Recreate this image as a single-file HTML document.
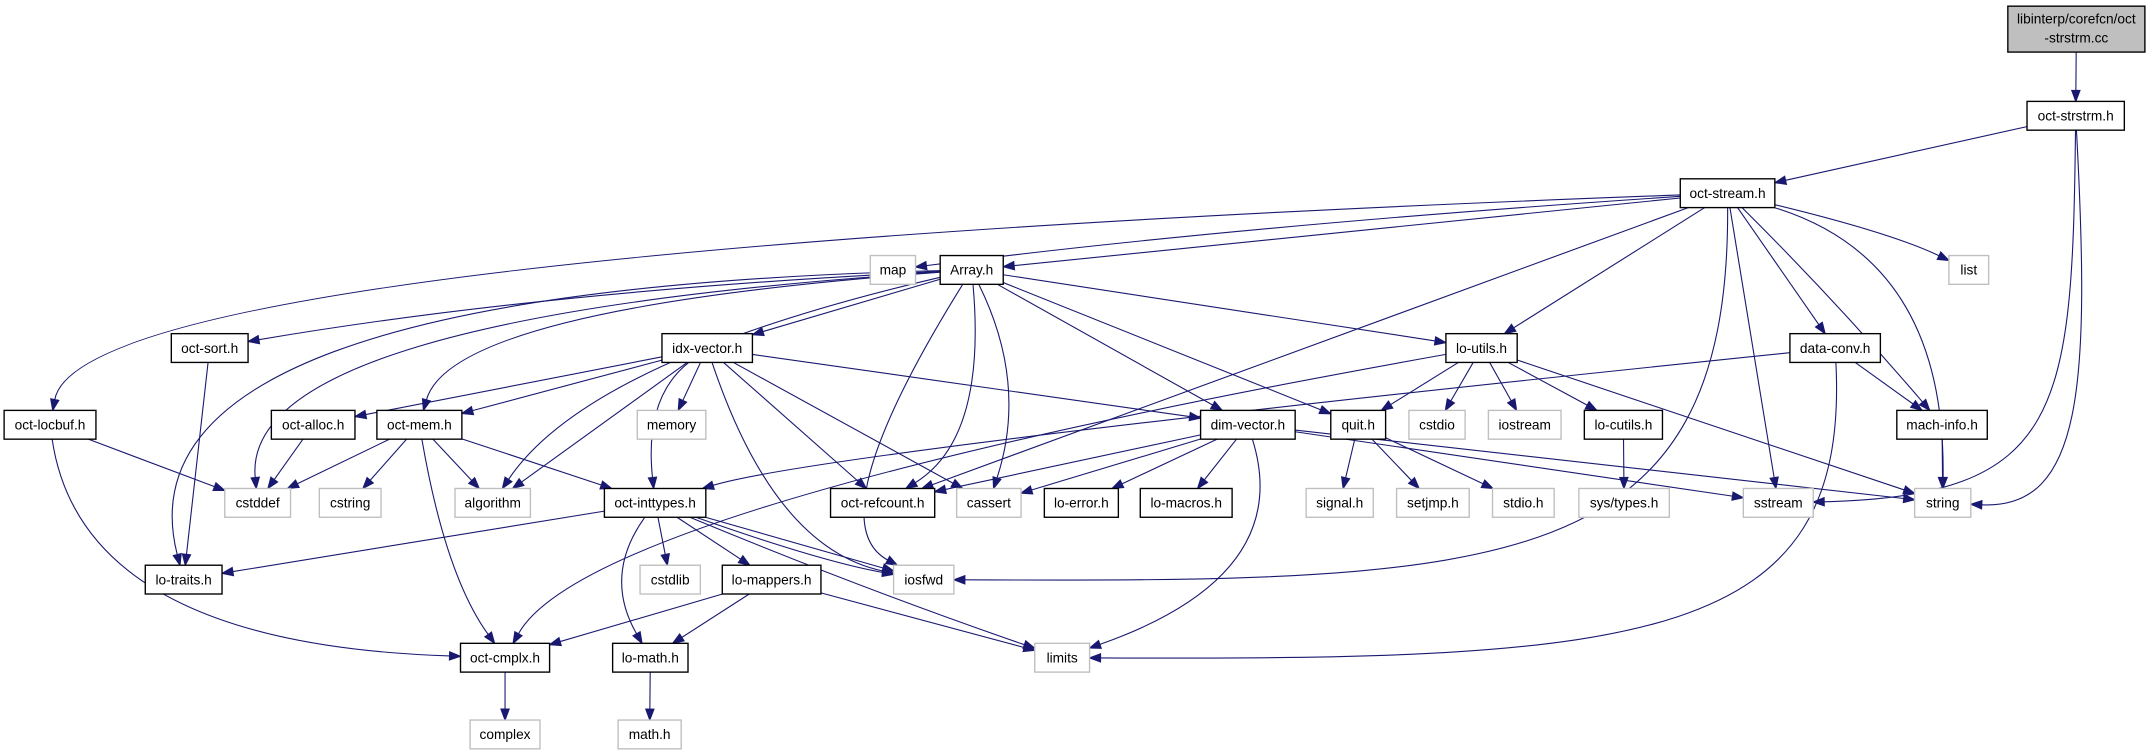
<!DOCTYPE html>
<html><head><meta charset="utf-8"><style>
html,body{margin:0;padding:0;background:#fff;}
svg{display:block;}
text{font-family:"Liberation Sans",sans-serif;font-size:10px;fill:#000;text-anchor:middle;}
</style></head><body>
<svg id="g" width="2149" height="755" viewBox="0 0 1568 551" preserveAspectRatio="none" xmlns="http://www.w3.org/2000/svg" style="position:absolute;left:0;top:0">
<g id="edges"></g>
<g stroke-width="1">
<rect x="1465" y="4.5" width="100" height="33.5" fill="#bfbfbf" stroke="#000"/>
<text x="1515" y="17">libinterp/corefcn/oct</text>
<text x="1515" y="31">-strstrm.cc</text>
</g>
</svg>
<script>
var R=[0,84.5,141,197,254,310,367,423,480,536];
var N={
strstrm:[1479,1550,1],stream:[1226,1295,2],map:[635,668,3],array:[686,732,3],list:[1422,1451,3],
sort:[125,181,4],idx:[483,549,4],loutils:[1055,1107,4],dataconv:[1306,1372,4],
locbuf:[3,70,5],alloc:[198,259,5],mem:[275,337,5],memory:[465,515,5],dim:[876,945,5],quit:[971,1011,5],
cstdio:[1028,1069,5],iostream:[1086,1139,5],locutils:[1156,1213,5],mach:[1384,1450,5],
cstddef:[164,212,6],cstring:[233,278,6],algorithm:[332,387,6],inttypes:[441,515,6],refcount:[606,682,6],
cassert:[698,745,6],loerror:[762,816,6],lomacros:[832,899,6],signal:[953,1002,6],setjmp:[1019,1072,6],
stdio:[1089,1134,6],systypes:[1152,1218,6],sstream:[1272,1323,6],string:[1397,1438,6],
lotraits:[106,162,7],cstdlib:[467,511,7],mappers:[527,599,7],iosfwd:[652,696,7],
cmplx:[336,401,8],lomath:[447,502,8],limits:[755,795,8],complex:[343,394,9],mathh:[451,497,9]
};
var B={};
for(var k in N){var n=N[k];B[k]={cx:(n[0]+n[1])/2,cy:R[n[2]],hw:(n[1]-n[0])/2,hh:10.5};}
B.lib={cx:1515,cy:21.25,hw:50,hh:16.75};
var E=[
["lib","strstrm"],
["strstrm","stream"],["strstrm","sstream",[1512,300],[1505,362]],["strstrm","string",[1525,280],[1520,372]],
["stream","map",[900,165]],["stream","array"],["stream","list",[1380,170]],["stream","string",[1420,190]],
["stream","locbuf",[60,185]],["stream","loutils"],["stream","refcount"],["stream","dataconv"],
["stream","mach",[1340,220]],["stream","sstream"],["stream","iosfwd",[1262,420],[1100,425]],
["array","idx"],["array","sort",[400,212]],["array","lotraits",[80,212]],["array","cstddef",[175,232]],
["array","mem",[330,225]],["array","algorithm",[430,262]],["array","iosfwd",[595,380]],
["array","refcount",[720,320]],["array","cassert",[750,280]],["array","dim"],["array","quit"],["array","loutils"],
["idx","alloc"],["idx","mem"],["idx","algorithm"],["idx","inttypes",[470,290]],["idx","memory"],
["idx","iosfwd",[565,400]],["idx","refcount"],["idx","cassert"],["idx","dim"],
["loutils","cmplx",[430,370]],["loutils","quit"],["loutils","cstdio"],["loutils","iostream"],
["loutils","locutils"],["loutils","string"],
["dataconv","inttypes",[600,330]],["dataconv","mach"],["dataconv","limits",[1350,470],[1200,482]],
["dim","refcount"],["dim","cassert"],["dim","loerror"],["dim","lomacros"],["dim","limits",[945,420]],
["dim","sstream"],["dim","string"],
["quit","signal"],["quit","setjmp"],["quit","stdio"],
["locutils","systypes"],["mach","string"],
["locbuf","cstddef"],["locbuf","cmplx",[60,470]],
["sort","lotraits"],["alloc","cstddef"],
["mem","cstddef"],["mem","cstring"],["mem","algorithm"],["mem","cmplx",[325,420]],["mem","inttypes"],
["inttypes","lotraits"],["inttypes","cstdlib"],["inttypes","lomath",[440,420]],["inttypes","mappers"],
["inttypes","iosfwd"],["inttypes","iosfwd",[600,410]],["inttypes","limits",[630,430]],
["mappers","cmplx"],["mappers","lomath"],["mappers","limits"],
["cmplx","complex"],["lomath","mathh"]
];
function bp(b,tx,ty){var dx=tx-b.cx,dy=ty-b.cy;var t=Math.min(dx?b.hw/Math.abs(dx):1e9,dy?b.hh/Math.abs(dy):1e9);return [b.cx+dx*t,b.cy+dy*t];}
var s="",C="#191970";
E.forEach(function(e){var a=B[e[0]],b=B[e[1]],c=e[2],c2=e[3]||e[2];
var p1=bp(a,c?c[0]:b.cx,c?c[1]:b.cy);var tip=bp(b,c2?c2[0]:a.cx,c2?c2[1]:a.cy);
var fx=c2?c2[0]:p1[0],fy=c2?c2[1]:p1[1];var dx=tip[0]-fx,dy=tip[1]-fy,L=Math.sqrt(dx*dx+dy*dy)||1;dx/=L;dy/=L;
var AL=8,AW=3;var bx=tip[0]-dx*AL,by=tip[1]-dy*AL;
var d;
if(e[3])d="M"+p1[0]+","+p1[1]+" C"+c[0]+","+c[1]+" "+c2[0]+","+c2[1]+" "+bx+","+by;
else if(c)d="M"+p1[0]+","+p1[1]+" Q"+c[0]+","+c[1]+" "+bx+","+by;
else d="M"+p1[0]+","+p1[1]+" L"+bx+","+by;
s+='<path d="'+d+'" fill="none" stroke="'+C+'" stroke-width="0.8"/>';
s+='<polygon points="'+tip[0]+','+tip[1]+' '+(bx-dy*AW)+','+(by+dx*AW)+' '+(bx+dy*AW)+','+(by-dx*AW)+'" fill="'+C+'" stroke="'+C+'" stroke-width="0.8"/>';});
document.getElementById("edges").innerHTML=s;
</script>
<svg width="2149" height="755" viewBox="0 0 1568 551" preserveAspectRatio="none" style="position:absolute;left:0;top:0" xmlns="http://www.w3.org/2000/svg">
<g stroke-width="1" fill="#fff">
<rect x="1479" y="74" width="71" height="21" stroke="#000"/><text x="1514.5" y="88">oct-strstrm.h</text>
<rect x="1226" y="130.5" width="69" height="21" stroke="#000"/><text x="1260.5" y="144.5">oct-stream.h</text>
<rect x="635" y="186.5" width="33" height="21" stroke="#bfbfbf"/><text x="651.5" y="200.5">map</text>
<rect x="686" y="186.5" width="46" height="21" stroke="#000"/><text x="709" y="200.5">Array.h</text>
<rect x="1422" y="186.5" width="29" height="21" stroke="#bfbfbf"/><text x="1436.5" y="200.5">list</text>
<rect x="125" y="243.5" width="56" height="21" stroke="#000"/><text x="153" y="257.5">oct-sort.h</text>
<rect x="483" y="243.5" width="66" height="21" stroke="#000"/><text x="516" y="257.5">idx-vector.h</text>
<rect x="1055" y="243.5" width="52" height="21" stroke="#000"/><text x="1081" y="257.5">lo-utils.h</text>
<rect x="1306" y="243.5" width="66" height="21" stroke="#000"/><text x="1339" y="257.5">data-conv.h</text>
<rect x="3" y="299.5" width="67" height="21" stroke="#000"/><text x="36.5" y="313.5">oct-locbuf.h</text>
<rect x="198" y="299.5" width="61" height="21" stroke="#000"/><text x="228.5" y="313.5">oct-alloc.h</text>
<rect x="275" y="299.5" width="62" height="21" stroke="#000"/><text x="306" y="313.5">oct-mem.h</text>
<rect x="465" y="299.5" width="50" height="21" stroke="#bfbfbf"/><text x="490" y="313.5">memory</text>
<rect x="876" y="299.5" width="69" height="21" stroke="#000"/><text x="910.5" y="313.5">dim-vector.h</text>
<rect x="971" y="299.5" width="40" height="21" stroke="#000"/><text x="991" y="313.5">quit.h</text>
<rect x="1028" y="299.5" width="41" height="21" stroke="#bfbfbf"/><text x="1048.5" y="313.5">cstdio</text>
<rect x="1086" y="299.5" width="53" height="21" stroke="#bfbfbf"/><text x="1112.5" y="313.5">iostream</text>
<rect x="1156" y="299.5" width="57" height="21" stroke="#000"/><text x="1184.5" y="313.5">lo-cutils.h</text>
<rect x="1384" y="299.5" width="66" height="21" stroke="#000"/><text x="1417" y="313.5">mach-info.h</text>
<rect x="164" y="356.5" width="48" height="21" stroke="#bfbfbf"/><text x="188" y="370.5">cstddef</text>
<rect x="233" y="356.5" width="45" height="21" stroke="#bfbfbf"/><text x="255.5" y="370.5">cstring</text>
<rect x="332" y="356.5" width="55" height="21" stroke="#bfbfbf"/><text x="359.5" y="370.5">algorithm</text>
<rect x="441" y="356.5" width="74" height="21" stroke="#000"/><text x="478" y="370.5">oct-inttypes.h</text>
<rect x="606" y="356.5" width="76" height="21" stroke="#000"/><text x="644" y="370.5">oct-refcount.h</text>
<rect x="698" y="356.5" width="47" height="21" stroke="#bfbfbf"/><text x="721.5" y="370.5">cassert</text>
<rect x="762" y="356.5" width="54" height="21" stroke="#000"/><text x="789" y="370.5">lo-error.h</text>
<rect x="832" y="356.5" width="67" height="21" stroke="#000"/><text x="865.5" y="370.5">lo-macros.h</text>
<rect x="953" y="356.5" width="49" height="21" stroke="#bfbfbf"/><text x="977.5" y="370.5">signal.h</text>
<rect x="1019" y="356.5" width="53" height="21" stroke="#bfbfbf"/><text x="1045.5" y="370.5">setjmp.h</text>
<rect x="1089" y="356.5" width="45" height="21" stroke="#bfbfbf"/><text x="1111.5" y="370.5">stdio.h</text>
<rect x="1152" y="356.5" width="66" height="21" stroke="#bfbfbf"/><text x="1185" y="370.5">sys/types.h</text>
<rect x="1272" y="356.5" width="51" height="21" stroke="#bfbfbf"/><text x="1297.5" y="370.5">sstream</text>
<rect x="1397" y="356.5" width="41" height="21" stroke="#bfbfbf"/><text x="1417.5" y="370.5">string</text>
<rect x="106" y="412.5" width="56" height="21" stroke="#000"/><text x="134" y="426.5">lo-traits.h</text>
<rect x="467" y="412.5" width="44" height="21" stroke="#bfbfbf"/><text x="489" y="426.5">cstdlib</text>
<rect x="527" y="412.5" width="72" height="21" stroke="#000"/><text x="563" y="426.5">lo-mappers.h</text>
<rect x="652" y="412.5" width="44" height="21" stroke="#bfbfbf"/><text x="674" y="426.5">iosfwd</text>
<rect x="336" y="469.5" width="65" height="21" stroke="#000"/><text x="368.5" y="483.5">oct-cmplx.h</text>
<rect x="447" y="469.5" width="55" height="21" stroke="#000"/><text x="474.5" y="483.5">lo-math.h</text>
<rect x="755" y="469.5" width="40" height="21" stroke="#bfbfbf"/><text x="775" y="483.5">limits</text>
<rect x="343" y="525.5" width="51" height="21" stroke="#bfbfbf"/><text x="368.5" y="539.5">complex</text>
<rect x="451" y="525.5" width="46" height="21" stroke="#bfbfbf"/><text x="474" y="539.5">math.h</text>
</g>
</svg>
</body></html>
